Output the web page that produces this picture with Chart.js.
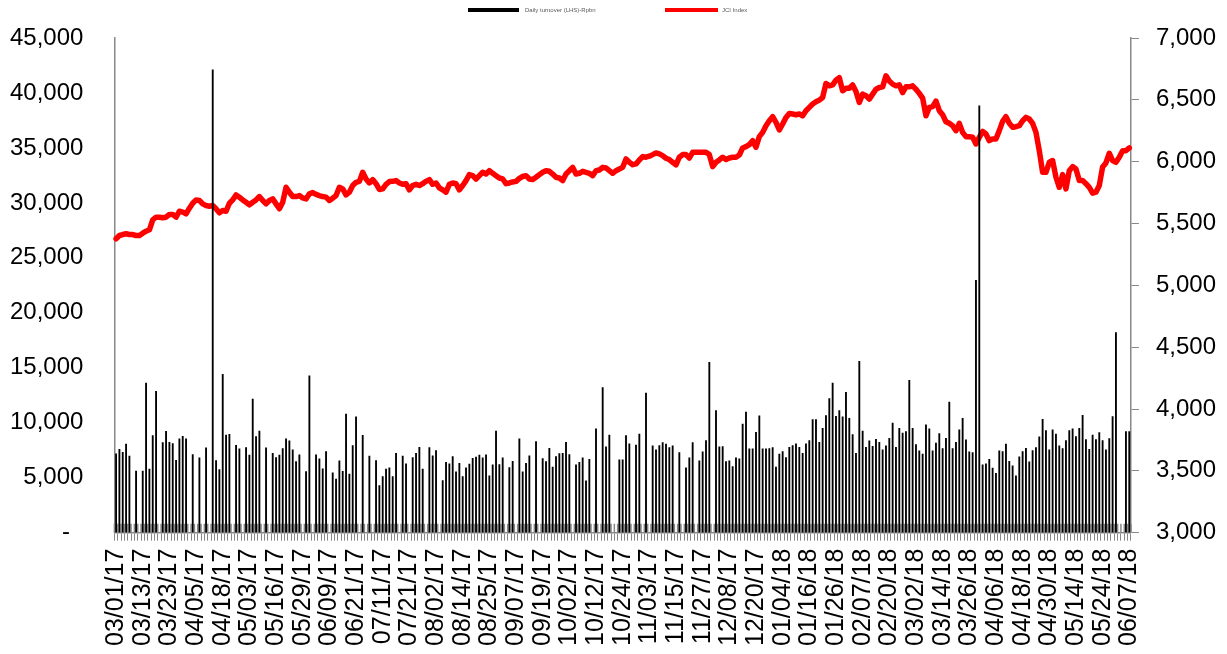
<!DOCTYPE html>
<html>
<head>
<meta charset="utf-8">
<script src="https://cdn.jsdelivr.net/npm/chart.js@4.4.1/dist/chart.umd.min.js"></script>
<style>
  html, body { margin: 0; padding: 0; background: #fff; }
  #wrap { position: relative; width: 1227px; height: 654px; }
  #legend { position: absolute; left: 0; top: 0; width: 1227px; height: 20px; font-family: "Liberation Sans", Arial, sans-serif; font-size: 6px; color: #595959; }
  .lg-box { position: absolute; top: 8px; height: 4px; }
  .lg-txt { position: absolute; top: 6px; line-height: 8px; white-space: nowrap; }
</style>
</head>
<body>
<div id="wrap">
  <canvas id="c" width="1227" height="654"></canvas>
  <div id="legend">
    <div class="lg-box" style="left:468px;width:51px;background:#000;"></div>
    <div class="lg-txt" style="left:525px;">Daily turnover (LHS)-Rpbn</div>
    <div class="lg-box" style="left:665px;width:53px;background:#ff0000;"></div>
    <div class="lg-txt" style="left:722px;">JCI Index</div>
  </div>
</div>
<script>
// Tick labels shown on the x axis (every 8th trading day)
const tickLabels = ['03/01/17','03/13/17','03/23/17','04/05/17','04/18/17','05/03/17','05/16/17','05/29/17','06/09/17','06/21/17','07/11/17','07/21/17','08/02/17','08/14/17','08/25/17','09/07/17','09/19/17','10/02/17','10/12/17','10/24/17','11/03/17','11/15/17','11/27/17','12/08/17','12/20/17','01/04/18','01/16/18','01/26/18','02/07/18','02/20/18','03/02/18','03/14/18','03/26/18','04/06/18','04/18/18','04/30/18','05/14/18','05/24/18','06/07/18'];

// Daily turnover (LHS), Rp bn (null = no visible bar)
const turnover = [
7170,7590,7320,8050,6960,null,5600,null,5600,13610,
5780,8830,12850,null,8200,9230,8230,8110,6590,8530,
8770,8530,null,7110,null,6810,null,7710,null,42100,
6560,5750,14400,8890,8950,null,7950,7620,null,7740,
7050,12160,8740,9250,null,7710,null,7230,6840,7050,
7650,8530,8350,7530,6470,7080,null,5560,14280,null,
7080,6710,5810,7380,null,5440,4870,6530,5570,10800,
5320,7920,10530,null,8860,null,6960,null,6560,4290,
5110,5780,5900,5110,7230,null,6960,6260,null,6840,
7230,7770,5780,null,7740,6990,7470,null,4750,6410,
6260,6930,5540,6320,5110,5900,6230,6770,6870,7050,
6810,7080,5170,6170,9250,6200,6810,null,5930,6500,
null,8530,5540,6320,6990,null,8290,null,6740,6470,
7680,5960,6930,7200,7230,8230,7110,null,6170,6410,
6810,4720,6680,null,9440,null,13190,7800,8890,null,
null,6620,6620,8830,8080,null,7980,8980,null,12700,
null,7890,7530,7920,8200,8050,7740,7890,null,7290,
null,5900,6810,8200,null,6530,7350,8380,15490,null,
11100,7800,7830,6470,6530,6020,6810,6710,9890,10980,
7620,7620,9130,10620,7620,7620,7650,7740,5960,7140,
7380,6840,7770,7920,8080,7770,7230,8080,8380,10280,
10280,8230,9500,10650,12190,13610,10590,11100,10530,12760,
10400,8920,7230,15580,9250,7770,8350,7860,8500,8230,
7530,7890,8590,9980,7770,9500,9070,9190,13850,9500,
8020,7440,7140,9800,9440,7440,8140,9010,7650,8590,
11890,7650,8230,9350,10400,8440,7350,7290,22960,38830,
6170,6260,6680,5870,5410,7440,7380,8050,6500,6080,
5170,6900,7380,7680,6440,7470,7740,8710,10310,9280,
7530,9350,8980,7890,7650,8380,9280,9440,8740,9500,
10680,8470,7590,8890,8470,9100,8380,7530,8560,10560,
18210,null,null,9190,9190
];

// JCI Index (RHS)
const jci = [
5377,5403,5411,5417,5411,5411,5403,5403,5422,5438,
5449,5530,5551,5551,5546,5551,5573,5573,5551,5599,
5592,5578,5624,5664,5691,5686,5659,5645,5640,5645,
5619,5586,5605,5599,5664,5691,5731,5712,5691,5672,
5651,5672,5691,5718,5686,5659,5686,5699,5659,5619,
5672,5793,5753,5718,5718,5726,5707,5699,5740,5750,
5735,5726,5718,5713,5686,5705,5726,5793,5780,5731,
5753,5807,5833,5841,5914,5860,5828,5855,5822,5775,
5780,5817,5839,5841,5847,5828,5817,5822,5772,5807,
5817,5807,5822,5841,5855,5817,5828,5788,5772,5753,
5817,5828,5822,5772,5807,5847,5895,5887,5860,5887,
5914,5900,5927,5906,5887,5868,5860,5822,5828,5836,
5841,5865,5880,5887,5860,5855,5874,5895,5914,5927,
5922,5900,5874,5868,5847,5900,5927,5954,5900,5906,
5922,5914,5906,5887,5927,5933,5954,5949,5927,5906,
5927,5941,5954,6022,5995,5976,5982,6014,6041,6036,
6044,6057,6071,6063,6049,6028,6017,5995,5974,6036,
6057,6057,6030,6076,6076,6076,6076,6076,6057,5960,
5995,6014,6036,6017,6030,6036,6036,6054,6111,6122,
6138,6170,6117,6202,6237,6291,6331,6364,6318,6256,
6305,6358,6390,6385,6379,6385,6371,6412,6439,6466,
6484,6498,6519,6632,6613,6621,6659,6680,6573,6594,
6594,6621,6567,6479,6546,6533,6506,6546,6586,6600,
6605,6694,6653,6627,6613,6621,6559,6605,6605,6613,
6586,6552,6514,6371,6439,6445,6490,6412,6379,6323,
6310,6291,6251,6310,6237,6202,6202,6197,6143,6197,
6245,6224,6170,6184,6184,6251,6326,6364,6310,6278,
6283,6291,6331,6358,6345,6310,6237,6089,5914,5914,
5995,6009,5874,5793,5895,5780,5927,5960,5941,5847,
5847,5822,5793,5745,5753,5807,5957,5990,6068,6009,
5995,6036,6089,6089,6111
];

// one category per trading day; only every 8th carries a label
const categories = turnover.map((_, i) => (i % 8 === 0 ? tickLabels[i / 8] : ''));

const AXIS_GREY = '#888888';
const FONT = '"Liberation Sans", Arial, sans-serif';

// short tick marks above the category axis (Excel "cross" tick marks)
const crossTicks = {
  id: 'crossTicks',
  beforeDatasetsDraw(chart) {
    const xs = chart.scales.x;
    const n = chart.data.labels.length;
    const step = (xs.right - xs.left) / n;
    const ctx = chart.ctx;
    ctx.save();
    ctx.strokeStyle = AXIS_GREY;
    ctx.lineWidth = 1.5;
    ctx.beginPath();
    for (let i = 0; i <= n; i++) {
      const px = xs.left + i * step;
      ctx.moveTo(px, xs.top - 9);
      ctx.lineTo(px, xs.top);
    }
    ctx.stroke();
    ctx.restore();
  }
};

new Chart(document.getElementById('c'), {
  data: {
    labels: categories,
    datasets: [
      {
        type: 'bar',
        label: 'Daily turnover (LHS)-Rpbn',
        data: turnover,
        backgroundColor: '#000000',
        borderWidth: 0,
        barThickness: 1.2,
        yAxisID: 'yL',
        order: 0
      },
      {
        type: 'line',
        label: 'JCI Index',
        data: jci,
        borderColor: '#ff0000',
        backgroundColor: '#ff0000',
        borderWidth: 5.5,
        pointRadius: 0,
        tension: 0,
        borderJoinStyle: 'round',
        borderCapStyle: 'round',
        yAxisID: 'yR',
        order: 1
      }
    ]
  },
  options: {
    responsive: false,
    animation: false,
    events: [],
    layout: { padding: { left: 2, right: -6, top: 38, bottom: 0 } },
    plugins: {
      legend: { display: false },
      tooltip: { enabled: false }
    },
    scales: {
      x: {
        type: 'category',
        grid: { display: true, drawOnChartArea: false, drawTicks: true, tickLength: 8, color: AXIS_GREY, lineWidth: 1 },
        border: { display: true, color: AXIS_GREY, width: 1.5 },
        ticks: {
          autoSkip: false,
          minRotation: 90,
          maxRotation: 90,
          padding: 8,
          color: '#000',
          font: { family: FONT, size: 25 },
          callback: (v, i) => categories[i]
        }
      },
      yL: {
        position: 'left',
        min: 0,
        max: 45000,
        grid: { display: true, drawOnChartArea: false, drawTicks: true, tickLength: 23, tickColor: 'rgba(0,0,0,0)' },
        border: { display: true, color: AXIS_GREY, width: 1.5 },
        ticks: {
          stepSize: 5000,
          padding: 8,
          color: '#000',
          font: { family: FONT, size: 24 },
          callback: v => (v === 0 ? '-  ' : v.toLocaleString('en-US'))
        }
      },
      yR: {
        position: 'right',
        min: 3000,
        max: 7000,
        grid: { display: true, drawOnChartArea: false, drawTicks: true, tickLength: 8, color: AXIS_GREY },
        border: { display: true, color: AXIS_GREY, width: 1.5 },
        ticks: {
          stepSize: 500,
          padding: 17,
          color: '#000',
          font: { family: FONT, size: 24 },
          callback: v => v.toLocaleString('en-US')
        }
      }
    }
  },
  plugins: [crossTicks]
});
</script>
</body>
</html>
